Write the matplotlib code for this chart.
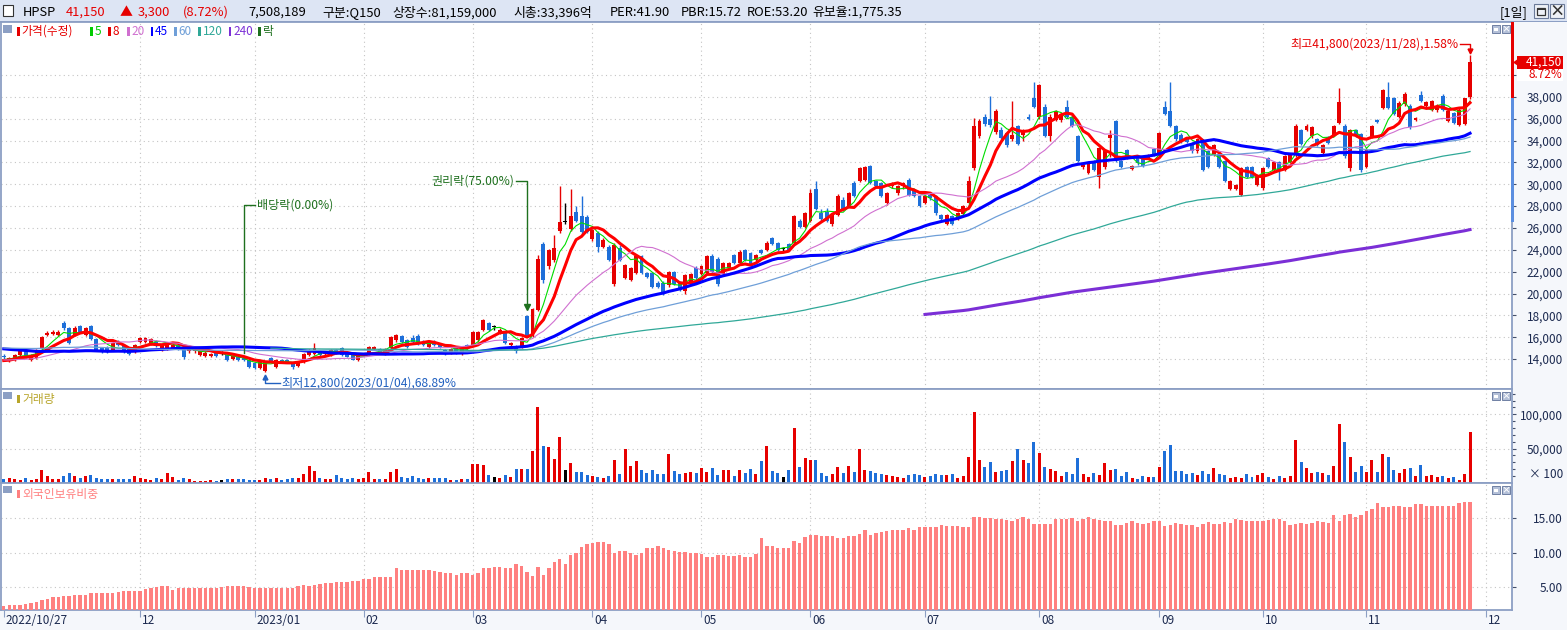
import matplotlib
matplotlib.use("Agg")
import matplotlib.pyplot as plt
from matplotlib.patches import Rectangle, Polygon
import numpy as np
import pandas as pd

plt.rcParams['font.family'] = ['Noto Sans CJK KR', 'DejaVu Sans']

# ---- 데이터: 가격은 100원 단위(수정주가) ----
# 화면 시작(2022/10/27) 이전 종가 - 이동평균 계산용
pre_close = [150, 158, 152, 149, 147, 151, 155, 153, 150, 148,
             146, 149, 152, 150, 147, 145, 148, 151, 153, 150,
             152, 155, 158, 160, 157, 159, 162, 160, 158, 161,
             163, 165, 162, 160, 164, 166, 163, 161, 159, 157,
             160, 158, 155, 157, 154, 152, 150, 151, 149, 146,
             144, 141, 139, 142, 140, 137, 135, 138, 140, 139,
             141, 143, 140, 138, 136, 137, 139, 138, 140, 139]

open_ = [143, 139, 139, 144, 148, 139, 141, 150, 162, 163,
         162, 173, 168, 162, 170, 162, 170, 158, 150, 150,
         148, 156, 153, 150, 147, 156, 156, 155, 156, 148,
         149, 150, 153, 148, 147, 147, 144, 143, 143, 146,
         145, 144, 140, 142, 141, 139, 136, 132, 129, 141,
         133, 139, 139, 136, 134, 137, 144, 145, 147, 145,
         144, 148, 150, 146, 144, 139, 144, 145, 149, 149,
         145, 150, 157, 161, 157, 159, 161, 156, 151, 156,
         154, 148, 146, 151, 145, 153, 153, 157, 167, 173,
         170, 164, 164, 153, 152, 151, 179, 161, 185, 245,
         225, 231, 257, 266, 259, 275, 271, 270, 250, 255,
         243, 243, 209, 242, 214, 212, 219, 234, 219, 219,
         210, 210, 208, 220, 210, 202, 209, 223, 218, 219,
         234, 232, 218, 223, 235, 228, 240, 237, 231, 240,
         240, 251, 246, 241, 245, 246, 266, 261, 266, 296,
         274, 275, 264, 272, 286, 280, 301, 303, 304, 317,
         303, 301, 283, 298, 292, 298, 304, 295, 289, 283,
         290, 289, 272, 264, 271, 268, 273, 283, 315, 344,
         362, 360, 348, 350, 347, 341, 353, 345, 362, 379,
         362, 371, 344, 359, 359, 371, 362, 344, 316, 310,
         321, 307, 316, 342, 358, 321, 331, 314, 324, 324,
         324, 332, 327, 371, 367, 353, 345, 342, 338, 330,
         339, 330, 327, 328, 321, 296, 296, 290, 316, 316,
         299, 297, 324, 313, 320, 313, 320, 327, 350, 350,
         344, 341, 329, 343, 345, 356, 353, 315, 350, 346,
         316, 343, 359, 370, 380, 379, 362, 373, 372, 359,
         382, 372, 368, 368, 381, 358, 365, 354, 355, 380]

high = [145, 142, 145, 148, 149, 145, 149, 161, 166, 167,
        167, 175, 169, 170, 171, 169, 171, 159, 151, 152,
        156, 157, 154, 151, 154, 160, 160, 159, 157, 153,
        154, 154, 154, 149, 151, 150, 148, 147, 146, 147,
        147, 145, 144, 143, 142, 140, 137, 139, 138, 142,
        140, 140, 140, 137, 138, 146, 149, 155, 148, 147,
        149, 149, 151, 147, 145, 144, 146, 152, 152, 150,
        150, 161, 163, 162, 158, 162, 163, 157, 156, 157,
        155, 149, 150, 152, 152, 154, 166, 166, 177, 174,
        171, 168, 165, 156, 153, 160, 180, 187, 235, 247,
        241, 254, 298, 283, 296, 280, 289, 272, 259, 257,
        251, 244, 246, 244, 227, 224, 235, 235, 220, 220,
        211, 211, 221, 221, 211, 218, 219, 225, 226, 235,
        236, 233, 229, 229, 236, 240, 241, 238, 236, 241,
        248, 252, 247, 243, 246, 272, 268, 275, 296, 303,
        277, 278, 273, 291, 288, 293, 303, 316, 317, 318,
        304, 302, 293, 302, 299, 302, 306, 296, 290, 290,
        291, 290, 273, 273, 272, 275, 281, 308, 361, 360,
        364, 381, 369, 352, 348, 376, 354, 351, 364, 394,
        392, 373, 364, 368, 365, 377, 363, 345, 320, 320,
        322, 334, 331, 350, 359, 322, 332, 318, 325, 326,
        328, 333, 348, 376, 394, 354, 347, 343, 339, 342,
        341, 331, 337, 329, 322, 304, 300, 316, 317, 317,
        309, 316, 325, 321, 321, 327, 328, 355, 351, 355,
        353, 342, 337, 344, 354, 388, 355, 351, 351, 347,
        333, 354, 360, 387, 394, 380, 376, 384, 373, 362,
        385, 376, 377, 373, 383, 368, 366, 370, 379, 418]

low = [140, 137, 138, 143, 141, 138, 140, 149, 161, 162,
       161, 167, 154, 161, 164, 161, 157, 147, 146, 146,
       147, 152, 146, 144, 146, 155, 155, 153, 151, 147,
       148, 149, 148, 140, 146, 146, 143, 142, 142, 142,
       144, 138, 139, 138, 138, 132, 131, 131, 128, 137,
       132, 136, 136, 131, 133, 136, 143, 144, 143, 144,
       143, 145, 143, 142, 139, 138, 143, 144, 148, 145,
       144, 149, 156, 155, 150, 155, 153, 152, 150, 152,
       150, 144, 145, 145, 144, 151, 152, 156, 166, 166,
       167, 163, 154, 152, 146, 150, 160, 160, 184, 210,
       222, 229, 255, 264, 257, 265, 254, 255, 248, 238,
       242, 230, 207, 230, 213, 211, 218, 218, 214, 205,
       205, 199, 206, 208, 202, 200, 208, 213, 217, 218,
       219, 207, 217, 222, 227, 227, 230, 225, 230, 236,
       239, 244, 239, 239, 239, 245, 260, 260, 265, 276,
       266, 265, 262, 271, 276, 279, 288, 302, 303, 300,
       297, 288, 281, 297, 290, 296, 289, 288, 279, 282,
       286, 272, 267, 263, 263, 267, 272, 282, 313, 342,
       353, 352, 346, 341, 334, 340, 336, 340, 359, 370,
       360, 343, 340, 358, 357, 361, 352, 320, 314, 309,
       312, 297, 314, 325, 320, 315, 323, 313, 318, 316,
       323, 326, 326, 363, 352, 340, 338, 338, 329, 329,
       312, 315, 326, 315, 302, 295, 295, 289, 306, 306,
       298, 295, 315, 312, 304, 312, 319, 325, 336, 349,
       342, 335, 327, 337, 344, 355, 324, 312, 343, 311,
       315, 342, 356, 369, 369, 363, 361, 372, 351, 358,
       375, 371, 367, 366, 367, 357, 355, 353, 354, 378]

close = [142, 141, 144, 147, 142, 144, 148, 160, 164, 165,
         165, 168, 155, 168, 165, 168, 158, 148, 147, 147,
         155, 153, 147, 145, 153, 159, 159, 158, 152, 152,
         153, 153, 149, 142, 150, 148, 147, 146, 145, 143,
         145, 139, 143, 139, 139, 133, 132, 138, 137, 138,
         139, 138, 137, 133, 137, 145, 148, 150, 144, 146,
         148, 146, 144, 142, 139, 143, 145, 151, 151, 146,
         149, 160, 162, 156, 151, 156, 155, 153, 156, 153,
         151, 145, 149, 146, 151, 152, 165, 165, 176, 167,
         170, 167, 155, 155, 147, 159, 161, 186, 232, 212,
         240, 242, 265, 266, 271, 266, 256, 256, 258, 243,
         249, 231, 244, 231, 226, 223, 234, 219, 215, 206,
         206, 200, 220, 209, 203, 217, 218, 214, 225, 234,
         220, 209, 228, 228, 228, 238, 231, 226, 235, 237,
         246, 245, 240, 241, 240, 271, 261, 274, 292, 277,
         268, 266, 272, 289, 277, 292, 289, 315, 316, 301,
         298, 289, 292, 301, 298, 301, 290, 289, 280, 289,
         287, 274, 268, 272, 264, 274, 280, 303, 353, 358,
         355, 354, 367, 342, 336, 345, 337, 350, 360, 371,
         391, 344, 362, 367, 364, 362, 353, 321, 318, 319,
         313, 333, 330, 345, 322, 316, 324, 317, 319, 317,
         327, 327, 347, 364, 353, 341, 339, 339, 330, 341,
         313, 316, 336, 316, 303, 303, 299, 315, 307, 307,
         308, 315, 316, 320, 313, 326, 327, 353, 337, 353,
         352, 336, 336, 338, 353, 375, 326, 350, 344, 313,
         331, 353, 357, 386, 370, 364, 374, 383, 352, 361,
         376, 375, 376, 372, 368, 367, 356, 368, 378.5, 411.5]

# 거래량 (x100주 표시 단위, 100 단위로 기록)
volume = [49, 63, 49, 34, 63, 34, 49, 180, 93, 49,
          49, 97, 136, 93, 63, 97, 107, 73, 49, 49,
          49, 49, 49, 49, 97, 63, 49, 34, 63, 49,
          136, 83, 34, 63, 49, 19, 19, 19, 34, 19,
          34, 49, 49, 49, 49, 34, 34, 34, 63, 49,
          63, 34, 49, 63, 63, 122, 244, 166, 63, 49,
          49, 107, 63, 49, 63, 49, 63, 151, 49, 49,
          49, 151, 195, 78, 63, 93, 63, 49, 63, 63,
          63, 63, 34, 34, 49, 49, 268, 268, 253, 107,
          78, 63, 107, 78, 195, 195, 195, 458, 1101, 531,
          516, 341, 662, 180, 282, 151, 151, 107, 93, 78,
          63, 93, 326, 122, 487, 244, 312, 180, 136, 180,
          122, 122, 414, 166, 122, 136, 151, 136, 209, 151,
          209, 107, 180, 180, 93, 180, 136, 195, 122, 312,
          531, 166, 136, 78, 180, 794, 224, 356, 326, 326,
          136, 93, 122, 224, 136, 239, 151, 487, 180, 166,
          136, 122, 107, 93, 78, 63, 107, 122, 107, 78,
          93, 122, 107, 107, 122, 63, 93, 370, 1028, 326,
          224, 297, 151, 166, 180, 312, 487, 326, 282, 589,
          429, 224, 195, 166, 93, 151, 122, 356, 122, 78,
          136, 107, 282, 180, 195, 93, 151, 63, 49, 93,
          78, 78, 224, 458, 545, 166, 166, 122, 136, 107,
          166, 122, 209, 122, 107, 63, 78, 63, 122, 78,
          107, 136, 78, 49, 93, 63, 93, 618, 297, 209,
          136, 151, 136, 107, 239, 852, 589, 370, 151, 239,
          151, 326, 151, 414, 376, 186, 142, 200, 215, 98,
          259, 98, 113, 84, 98, 69, 84, 39, 127, 746]

# 외국인보유비중 (%)
foreign = [2.2, 2.4, 2.4, 2.4, 2.6, 2.7, 2.9, 3.1, 3.2, 3.5,
           3.5, 3.7, 3.7, 3.8, 3.8, 3.8, 4.2, 4.1, 4.2, 4.2,
           4.2, 4.3, 4.4, 4.4, 4.4, 4.4, 4.7, 4.8, 5.0, 5.1,
           5.2, 4.6, 4.8, 4.8, 4.8, 4.9, 4.9, 4.9, 4.9, 4.9,
           5.0, 5.1, 5.2, 5.1, 5.1, 5.0, 4.9, 4.9, 4.9, 4.9,
           4.9, 4.8, 4.8, 4.9, 5.1, 5.3, 5.1, 5.3, 5.5, 5.6,
           5.6, 5.7, 5.7, 5.7, 5.8, 5.8, 6.1, 6.1, 6.5, 6.5,
           6.4, 6.5, 7.8, 7.5, 7.5, 7.5, 7.5, 7.4, 7.5, 7.3,
           7.2, 7.0, 7.0, 6.8, 7.0, 7.0, 6.7, 7.1, 7.7, 7.7,
           7.9, 7.9, 7.7, 7.8, 8.3, 8.0, 7.2, 6.6, 7.9, 6.7,
           7.7, 8.6, 9.0, 8.4, 9.7, 10.0, 10.8, 11.3, 11.4, 11.5,
           11.5, 11.2, 9.9, 10.2, 10.2, 9.9, 9.7, 9.9, 10.7, 10.7,
           10.9, 10.6, 10.3, 10.2, 10.1, 10.1, 9.9, 9.9, 9.8, 9.4,
           9.4, 9.6, 9.6, 9.5, 9.5, 9.7, 9.4, 9.4, 9.8, 12.1,
           11.0, 10.9, 10.6, 10.6, 10.6, 11.6, 11.4, 12.2, 12.6, 12.6,
           12.4, 12.4, 12.4, 12.1, 12.1, 12.4, 12.4, 12.7, 13.2, 12.6,
           12.8, 12.9, 13.1, 13.2, 13.2, 13.2, 13.5, 13.3, 13.7, 13.7,
           13.7, 13.7, 14.0, 13.9, 13.9, 13.9, 13.7, 13.7, 15.1, 15.1,
           15.0, 15.0, 14.9, 14.8, 14.7, 14.6, 14.9, 15.2, 14.9, 14.2,
           14.1, 14.1, 14.2, 14.8, 14.9, 14.9, 15.0, 14.6, 14.9, 15.1,
           14.9, 14.7, 14.6, 14.6, 14.0, 14.0, 14.3, 14.5, 14.3, 14.2,
           14.3, 14.5, 14.6, 13.9, 14.0, 14.3, 14.2, 14.0, 14.0, 13.7,
           14.1, 14.4, 14.2, 14.2, 14.4, 14.3, 14.8, 14.7, 14.5, 14.6,
           14.6, 14.6, 14.7, 14.9, 14.9, 14.5, 14.0, 14.2, 14.3, 14.2,
           14.3, 14.5, 14.4, 14.3, 15.5, 14.6, 15.5, 15.6, 15.1, 15.4,
           16.0, 16.3, 17.2, 16.6, 16.6, 16.8, 16.8, 16.6, 16.6, 17.0,
           17.0, 16.8, 16.8, 16.8, 16.8, 16.8, 16.8, 17.2, 17.3, 17.3]

# 휴장일
holidays = ['2022-12-30', '2023-01-23', '2023-01-24', '2023-03-01', '2023-05-01',
            '2023-05-05', '2023-05-29', '2023-06-06', '2023-08-15', '2023-09-28',
            '2023-09-29', '2023-10-02', '2023-10-03', '2023-10-09']

ma_periods = [5, 8, 20, 45, 60, 120, 240]
ma_colors = ['#00dd00', '#ff0000', '#d070d0', '#0000ff', '#6f9fd8', '#30a898', '#7b2fd6']
ma_widths = [0.8, 2.2, 0.8, 2.2, 0.9, 0.9, 2.2]

RED = '#e60000'
BLUE = '#1e6fd9'
BORDER = '#8c9fc4'
GRID = '#c4c4c4'
LABELC = '#1c2a50'
GREEN_ANN = '#1e701e'
LOWBLUE = '#2060c0'

o = np.array(open_) * 100.0
h = np.array(high) * 100.0
l = np.array(low) * 100.0
c = np.array(close) * 100.0
n = len(c)
x = np.arange(n)

# 날짜 -> 월 시작 위치 (첫 봉 바로 뒤의 월 시작은 표시하지 않음)
dates = pd.bdate_range('2022-10-27', '2023-12-01')
dates = dates[~dates.isin(pd.to_datetime(holidays))]
month_idx, month_lab = [0], ['2022/10/27']
for i in range(1, len(dates)):
    if dates[i].month != dates[i - 1].month and i > 10:
        month_idx.append(i)
        month_lab.append(dates[i].strftime('%Y/%m') if dates[i].month == 1 else dates[i].strftime('%m'))

W, H = 1567, 630
fig = plt.figure(figsize=(W / 100, H / 100), dpi=100, facecolor='#f5f7fb')


def frect(px, py_, w, hh, **kw):
    kw.setdefault('lw', 0)
    fig.add_artist(Rectangle((px / W, 1 - (py_ + hh) / H), w / W, hh / H,
                             transform=fig.transFigure, **kw))


def ftext(px, py_, s, **kw):
    kw.setdefault('fontsize', 9)
    kw.setdefault('va', 'center')
    fig.text(px / W, 1 - py_ / H, s, **kw)


def panel(top, bottom):
    ax = fig.add_axes([1 / W, 1 - bottom / H, 1511 / W, (bottom - top) / H])
    ax.set_xlim(-0.51, 276.7)
    ax.set_facecolor('white')
    for s in ax.spines.values():
        s.set_color(BORDER)
        s.set_linewidth(1.3)
    ax.yaxis.tick_right()
    ax.tick_params(axis='y', which='both', direction='out', color='#44506a', width=0.8,
                   labelsize=8.5, labelcolor=LABELC, pad=33.5)
    ax.tick_params(axis='y', which='major', length=3)
    ax.tick_params(axis='y', which='minor', length=2)
    ax.set_xticks(month_idx)
    ax.tick_params(axis='x', length=0, labelbottom=False)
    for m in month_idx[1:]:
        ax.axvline(m, color=GRID, lw=0.8, ls=(0, (1, 3)), zorder=0)
    return ax


def yticks(ax, ticks, labels):
    ax.set_yticks(ticks)
    ax.set_yticklabels(labels)
    for t in ax.get_yticklabels():
        t.set_horizontalalignment('right')
    for t in ticks:
        ax.axhline(t, color=GRID, lw=0.8, ls=(0, (1, 3)), zorder=0)


ax_p = panel(22, 389)
ax_v = panel(389, 483)
ax_f = panel(483, 610)

# ---- 가격 ----
PY0, PY1 = 11260, 44850
ax_p.set_ylim(PY0, PY1)
pt = list(range(14000, 40001, 2000))
yticks(ax_p, pt, [f'{v:,}' if v < 40000 else '' for v in pt])

col = np.where(c > o, RED, np.where(c < o, BLUE, 'black'))
ax_p.vlines(x, l, h, colors=col, lw=1.0, zorder=2)
bot = np.where(c == o, o - 30, np.minimum(o, c))
ht = np.where(c == o, 60, np.abs(c - o))
ax_p.bar(x, ht, bottom=bot, width=0.72, color=col, lw=0, zorder=3)

full = pd.Series(np.r_[np.array(pre_close) * 100.0, c])
k = len(pre_close)
for p, mc, lw in zip(ma_periods, ma_colors, ma_widths):
    ma = full.rolling(p).mean().to_numpy()[k:]
    ax_p.plot(x, ma, color=mc, lw=lw, zorder=4)

# 배당락 / 권리락 / 최고 / 최저
AFS = 8.7
ax_p.plot([44, 44, 46], [14600, 28100, 28100], color=GREEN_ANN, lw=1, zorder=6)
ax_p.text(46.4, 28100, '배당락(0.00%)', color=GREEN_ANN, fontsize=AFS, va='center', ha='left')
ax_p.plot([93.9, 96, 96], [30300, 30300, 19000], color=GREEN_ANN, lw=1, zorder=6)
ax_p.plot(96, 18750, marker='v', ms=4, color=GREEN_ANN, zorder=6)
ax_p.text(93.6, 30300, '권리락(75.00%)', color=GREEN_ANN, fontsize=AFS, va='center', ha='right')
ax_p.plot([267.2, 269, 269], [42840, 42840, 42300], color=RED, lw=1, zorder=6)
ax_p.plot(269, 42150, marker='v', ms=3.5, color=RED, zorder=6)
ax_p.text(266.9, 42840, '최고41,800(2023/11/28),1.58%', color=RED, fontsize=AFS, va='center', ha='right')
ax_p.plot([48, 48, 50.6], [12300, 11810, 11810], color=LOWBLUE, lw=1, zorder=6)
ax_p.plot(48, 12400, marker='^', ms=3.5, color=LOWBLUE, zorder=6)
ax_p.text(50.9, 11810, '최저12,800(2023/01/04),68.89%', color=LOWBLUE, fontsize=AFS, va='center', ha='left')

# ---- 거래량 ----
vol = np.array(volume) * 100.0
ax_v.set_ylim(-400, 137000)
yticks(ax_v, [50000, 100000], ['50,000', '100,000'])
ax_v.set_yticks(np.arange(10000, 130001, 10000), minor=True)
ax_v.bar(x, vol, width=0.55, color=col, lw=0, zorder=3)
ftext(1563, 474, '× 100', fontsize=8.5, color=LABELC, ha='right')

# ---- 외국인보유비중 ----
ax_f.set_ylim(1.67, 20.07)
yticks(ax_f, [5, 10, 15], ['5.00', '10.00', '15.00'])
ax_f.bar(x, foreign, width=0.62, bottom=0, color='#ff8080', lw=0, zorder=3)
ax_f.tick_params(axis='x', length=5, width=0.8, color=BORDER, direction='out')
for m, lab in zip(month_idx, month_lab):
    ax_f.text(m + 0.35, -0.035, lab, transform=ax_f.get_xaxis_transform(),
              ha='left', va='top', fontsize=8.5, color=LABELC)


def py(p):
    return 22 + (PY1 - p) / (PY1 - PY0) * 367


# 오른쪽 현재가 표시
frect(1510.5, 22, 3, py(37900) - 22, facecolor=RED)
frect(1510.5, py(37900), 3, py(26500) - py(37900), facecolor='#5b8ee0')
yc = py(c[-1])
frect(1517, yc - 6.5, 46, 13, facecolor=RED)
ftext(1562, yc, '41,150', color='white', ha='right', fontsize=8.5)
frect(1517, yc + 6.5, 46, 12, facecolor='white')
ftext(1562, yc + 12.5, '8.72%', color=RED, ha='right', fontsize=8.5)
tri = [(1513, yc), (1520, yc - 5), (1520, yc + 5)]
fig.add_artist(Polygon([(a / W, 1 - b / H) for a, b in tri], closed=True,
                       transform=fig.transFigure, facecolor=RED, lw=0))

# ---- 상단 헤더 ----
frect(0, 0, W, 21, facecolor='#dde5f4')
frect(0, 21, W, 1, facecolor=BORDER)
frect(3, 5, 10, 11, facecolor='white', edgecolor='#333333', lw=0.8)
hy = 12.5
HFS = 9.3
ftext(23, hy, 'HPSP', color='black', fontsize=HFS)
ftext(66, hy, '41,150', color=RED, fontsize=HFS)
ftext(120, hy, '▲', color=RED, fontsize=HFS)
ftext(138, hy, '3,300', color=RED, fontsize=HFS)
ftext(183, hy, '(8.72%)', color=RED, fontsize=HFS)
ftext(248, hy, '7,508,189', fontsize=HFS)
ftext(322, hy, '구분:Q150', fontsize=HFS)
ftext(392, hy, '상장수:81,159,000', fontsize=HFS)
ftext(513, hy, '시총:33,396억', fontsize=HFS)
ftext(610, hy, 'PER:41.90', fontsize=HFS)
ftext(681, hy, 'PBR:15.72', fontsize=HFS)
ftext(747, hy, 'ROE:53.20', fontsize=HFS)
ftext(812, hy, '유보율:1,775.35', fontsize=HFS)
ftext(1500, hy, '[1일]', fontsize=HFS)
for bx in (1534, 1550):
    frect(bx, 4, 14, 14, facecolor='#eef1f7', edgecolor='#6b7a99', lw=0.8)
frect(1537, 7.5, 8, 7, facecolor='none', edgecolor='#333333', lw=0.9)
frect(1537, 7.5, 8, 2, facecolor='#333333')
ftext(1557, 11, '×', ha='center', fontsize=11, fontweight='bold', color='#333333')


def minibtns(y):
    frect(1492, y, 8, 8, facecolor='#b4c0d8', edgecolor='#6f80a3', lw=0.7)
    frect(1494, y + 3, 4, 2.5, facecolor='white')
    frect(1502, y, 8, 8, facecolor='#b4c0d8', edgecolor='#6f80a3', lw=0.7)
    ftext(1506, y + 4, '×', fontsize=6.5, color='white', ha='center', fontweight='bold')


minibtns(25)
minibtns(392)
minibtns(486)

# ---- 범례 ----
frect(3, 25, 9, 8, facecolor=BORDER)
leg = [(17, '가격(수정)', RED), (90, '5', '#00cc00'), (108, '8', RED), (127, '20', '#d070d0'),
       (150.5, '45', '#0000ff'), (174, '60', '#6f9fd8'), (198, '120', '#30a898'),
       (228.5, '240', '#7b2fd6'), (258, '락', GREEN_ANN)]
for lx, s, lc in leg:
    frect(lx, 27, 2.5, 9, facecolor=lc)
    ftext(lx + 4.5, 31.5, s, color=lc, fontsize=8.5)

frect(3, 392, 9, 7, facecolor=BORDER)
frect(17, 395, 2.5, 8, facecolor='#b8a52a')
ftext(22, 399.5, '거래량', color='#b8a52a', fontsize=8.5)
frect(3, 486, 9, 7, facecolor=BORDER)
frect(17, 490, 2.5, 8, facecolor='#ff8080')
ftext(22, 494.5, '외국인보유비중', color='#ff8080', fontsize=8.5)

fig.savefig('out.png', dpi=100, facecolor=fig.get_facecolor())
